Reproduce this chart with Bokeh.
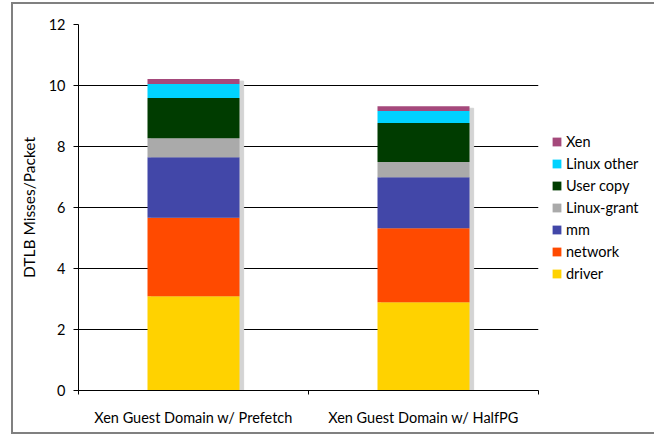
from bokeh.plotting import figure
from bokeh.models import (FixedTicker, Range1d, Legend, LegendItem,
                          ColumnDataSource, LinearAxis)
from bokeh.embed import file_html
from bokeh.resources import INLINE

# ---- data ----
categories = ["Xen Guest Domain w/ Prefetch", "Xen Guest Domain w/ HalfPG"]
components = ["driver", "network", "mm", "Linux-grant", "User copy", "Linux other", "Xen"]
driver = [3.09, 2.89]
network = [2.57, 2.43]
mm = [1.99, 1.67]
linux_grant = [0.62, 0.50]
user_copy = [1.32, 1.28]
linux_other = [0.46, 0.39]
xen = [0.16, 0.16]
colors = ["#ffd200", "#ff4a00", "#4247a8", "#aaaaaa", "#003c00", "#00d2ff", "#a5497b"]
y_ticks = [0, 2, 4, 6, 8, 10, 12]

FONT = "Lato"

xs = [i + 0.5 for i in range(len(categories))]
series = [driver, network, mm, linux_grant, user_copy, linux_other, xen]
data = {"x": xs}
for name, vals in zip(components, series):
    data[name] = vals
totals = [sum(v) for v in zip(*series)]
data["shadow_x"] = [x + 0.018 for x in xs]
data["shadow_top"] = [t - 0.066 for t in totals]
src = ColumnDataSource(data)

p = figure(width=632, height=428, output_backend="svg", toolbar_location=None,
           x_range=Range1d(0, len(categories)), y_range=Range1d(0, 12),
           frame_width=460, frame_height=366,
           min_border_left=65, min_border_right=107, min_border_top=20, min_border_bottom=42,
           x_axis_location=None, y_axis_location=None)
p.outline_line_color = None
p.background_fill_color = "white"
p.border_fill_color = "white"
p.styles = {"outline": "2px solid #808080", "margin-left": "13px", "margin-top": "4px"}

# shadow
p.vbar(x="shadow_x", top="shadow_top", bottom=0, width=0.4, color="#d4d4d4", source=src)

renderers = p.vbar_stack(components, x="x", width=0.4, color=colors, source=src,
                         line_color=None)

# y axis
yaxis = LinearAxis(ticker=FixedTicker(ticks=y_ticks))
yaxis.axis_label = "DTLB Misses/Packet"
yaxis.axis_label_text_font = FONT
yaxis.axis_label_text_font_style = "normal"
yaxis.axis_label_text_font_size = "15.5px"
yaxis.axis_label_text_color = "black"
yaxis.axis_label_standoff = 8
yaxis.major_label_text_font = FONT
yaxis.major_label_text_font_size = "14.5px"
yaxis.major_label_text_color = "black"
yaxis.major_label_standoff = 8
yaxis.axis_line_color = "black"
yaxis.major_tick_line_color = "black"
yaxis.major_tick_out = 5
yaxis.major_tick_in = 0
yaxis.minor_tick_line_color = None
p.add_layout(yaxis, "left")

# x axis
xaxis = LinearAxis(ticker=FixedTicker(ticks=xs, minor_ticks=[0, 1, 2]))
xaxis.major_label_overrides = {x: c for x, c in zip(xs, categories)}
xaxis.major_label_text_font = FONT
xaxis.major_label_text_font_size = "14.5px"
xaxis.major_label_text_color = "black"
xaxis.major_label_standoff = 14
xaxis.major_tick_line_color = None
xaxis.major_tick_out = 0
xaxis.major_tick_in = 0
xaxis.minor_tick_line_color = "black"
xaxis.minor_tick_out = 4
xaxis.minor_tick_in = 0
xaxis.axis_line_color = "black"
p.add_layout(xaxis, "below")

p.ygrid.grid_line_color = "black"
p.ygrid.ticker = FixedTicker(ticks=y_ticks)
p.xgrid.grid_line_color = None
p.ygrid.level = "underlay"

# legend (top item = Xen)
items = [LegendItem(label=c, renderers=[r]) for c, r in zip(components, renderers)][::-1]
legend = Legend(items=items, location="center_left")
legend.glyph_width = 11
legend.glyph_height = 11
legend.label_height = 18
legend.spacing = 4
legend.label_standoff = 4
legend.padding = 0
legend.margin = 13
legend.border_line_color = None
legend.background_fill_alpha = 0
legend.label_text_font = FONT
legend.label_text_font_size = "14.5px"
legend.label_text_color = "black"
p.add_layout(legend, "right")

open("out.html", "w").write(file_html(p, INLINE))
